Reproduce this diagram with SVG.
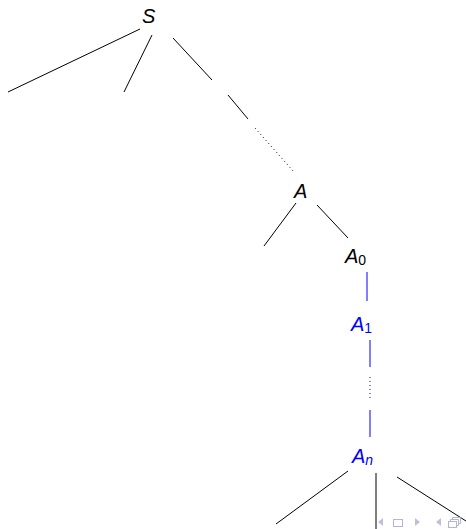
<svg xmlns="http://www.w3.org/2000/svg" width="466" height="529" viewBox="0 0 466 529">
<style>
.t{font-family:"Liberation Sans","DejaVu Sans",sans-serif;font-style:italic;font-size:20px}
.sub{font-style:normal;font-size:14px}
.subi{font-style:italic;font-size:14px}
.k{stroke:#000;stroke-width:1;fill:none}
.b{stroke:#0000ff;stroke-width:1;fill:none}
.kd{stroke:#000;stroke-width:1;stroke-dasharray:1 3;fill:none}
.bd{stroke:#0000ff;stroke-width:1;stroke-dasharray:1 3;fill:none}
.nav{fill:#c0c0dc;stroke:none}
.navs{fill:none;stroke:#b4b4d4;stroke-width:1}
</style>
<rect width="466" height="529" fill="#fff"/>
<g id="connectors">
<line class="k" x1="140" y1="29" x2="8" y2="92"/>
<line class="k" x1="152" y1="35" x2="124" y2="92"/>
<line class="k" x1="173" y1="38" x2="212" y2="80"/>
<line class="k" x1="228" y1="95" x2="248" y2="119"/>
<line class="kd" x1="255" y1="128" x2="294" y2="172"/>
<line class="k" x1="296" y1="203" x2="264" y2="246"/>
<line class="k" x1="317" y1="205" x2="348" y2="238"/>
<line class="b" x1="367" y1="272" x2="367" y2="301"/>
<line class="b" x1="370" y1="340" x2="370" y2="367"/>
<line class="bd" x1="370" y1="377" x2="370" y2="401"/>
<line class="b" x1="370" y1="410" x2="370" y2="437"/>
<line class="k" x1="348" y1="471" x2="276" y2="524"/>
<line class="k" x1="376" y1="473" x2="376" y2="529"/>
<line class="k" x1="397" y1="477" x2="466" y2="521"/>
</g>
<g id="S"><text class="t" x="142" y="23">S</text></g>
<g id="A"><text class="t" x="294" y="198">A</text></g>
<g id="A0"><text class="t" x="345" y="263">A<tspan class="sub" dy="2">0</tspan></text></g>
<g id="A1"><text class="t" x="351" y="331" fill="#0000ff">A<tspan class="sub" dy="2">1</tspan></text></g>
<g id="An"><text class="t" x="352" y="463" fill="#0000ff">A<tspan class="subi" dy="2">n</tspan></text></g>
<g id="nav">
<polygon class="nav" points="383,518 378,522 383,526"/>
<rect class="navs" x="393.5" y="519.5" width="9" height="7"/>
<polygon class="nav" points="415,518 420,522 415,526"/>
<polygon class="nav" points="441,518 436,522 441,526"/>
<rect class="navs" x="448.5" y="521.5" width="8" height="6"/>
<path class="navs" d="M450.5 521.5V519.5H458.5V525.5H456.5M452.5 519.5V517.5H460.5V523.5H458.5"/>
</g>
</svg>
